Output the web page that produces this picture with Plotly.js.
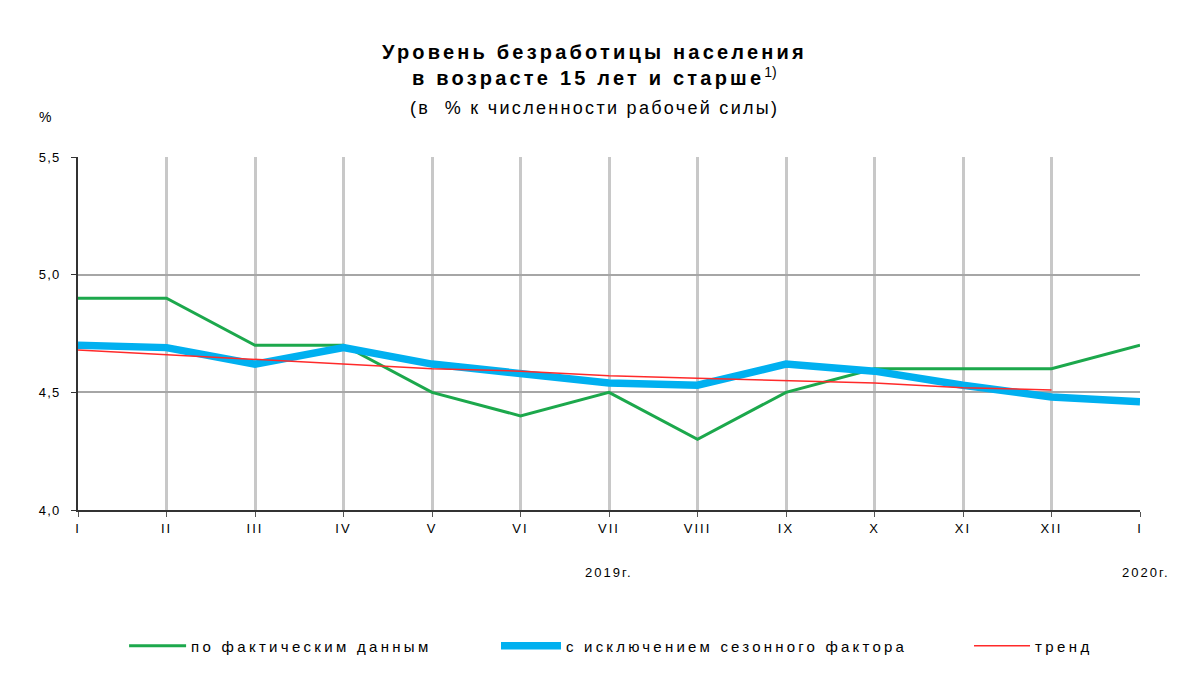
<!DOCTYPE html>
<html>
<head>
<meta charset="utf-8">
<script src="https://cdn.plot.ly/plotly-3.0.1.min.js"></script>
<style>
html,body{margin:0;padding:0;background:#fff;}
#chart{width:1187px;height:697px;}
</style>
</head>
<body>
<div id="chart"></div>
<script>
// Data
const months = ["I","II","III","IV","V","VI","VII","VIII","IX","X","XI","XII","I"];
const actual = [4.9, 4.9, 4.7, 4.7, 4.5, 4.4, 4.5, 4.3, 4.5, 4.6, 4.6, 4.6, 4.7];
const seasonal = [4.70, 4.69, 4.62, 4.69, 4.62, 4.58, 4.54, 4.53, 4.62, 4.59, 4.53, 4.48, 4.46];
const trend = [4.68, 4.66, 4.64, 4.62, 4.60, 4.59, 4.57, 4.56, 4.55, 4.54, 4.52, 4.51];
const seriesNames = ["по фактическим данным", "с исключением сезонного фактора", "тренд"];
const yearLabels = ["2019г.", "2020г."];
const yearPos = [6, 12];
const yTicks = [4.0, 4.5, 5.0, 5.5];

const idx = months.map((m, i) => i);
const FONT = "Liberation Sans, Arial, sans-serif";
const sp = (t, px) => '<span style="letter-spacing:' + px + 'px">' + t + '</span>';

const traces = [
  {x: idx, y: actual, type: "scatter", mode: "lines", name: sp(seriesNames[0], 3.3),
   line: {color: "#1ca84c", width: 3}, legend: "legend"},
  {x: idx, y: seasonal, type: "scatter", mode: "lines", name: sp(seriesNames[1], 3.2),
   line: {color: "#00b0f0", width: 7.5}, legend: "legend2"},
  {x: idx.slice(0, trend.length), y: trend, type: "scatter", mode: "lines", name: sp(seriesNames[2], 3.4),
   line: {color: "#ff2a2a", width: 1.5}, legend: "legend3"}
];

const legendBase = {orientation: "h", yanchor: "middle", xanchor: "left", y: -0.385,
  font: {family: FONT, size: 15, color: "#000"}, bgcolor: "rgba(0,0,0,0)", borderwidth: 0};

const layout = {
  width: 1187, height: 697,
  margin: {l: 78, r: 47, t: 157, b: 187},
  paper_bgcolor: "#fff", plot_bgcolor: "#fff",
  separators: ", ",
  font: {family: FONT, size: 13, color: "#000"},
  showlegend: true,
  legend: Object.assign({}, legendBase, {x: 0.0434, itemwidth: 57}),
  legend2: Object.assign({}, legendBase, {x: 0.3936, itemwidth: 60}),
  legend3: Object.assign({}, legendBase, {x: 0.8390, itemwidth: 56}),
  xaxis: {
    range: [0, 12], tickmode: "array", tickvals: idx, ticktext: months.map(m => sp(m, 2)),
    showgrid: true, gridcolor: "#c8c8c8", gridwidth: 3,
    showline: true, linecolor: "#333", linewidth: 2,
    ticks: "outside", ticklen: 5, tickcolor: "#555", tickwidth: 1,
    tickfont: {family: FONT, size: 13, color: "#000"},
    zeroline: false, fixedrange: true
  },
  yaxis: {
    range: [4.0, 5.5], tickmode: "array", tickvals: yTicks,
    ticktext: yTicks.map(v => sp(v.toFixed(1).replace(".", ","), 1.2)),
    ticklabelstandoff: 8,
    showgrid: true, gridcolor: "#a6a6a6", gridwidth: 2,
    showline: true, linecolor: "#333", linewidth: 2,
    ticks: "outside", ticklen: 5, tickcolor: "#333", tickwidth: 1,
    tickfont: {family: FONT, size: 13, color: "#000"},
    zeroline: false, fixedrange: true
  },
  annotations: [
    {text: "<b>" + sp("Уровень безработицы населения", 3.2) + "</b>", xref: "paper", yref: "paper", x: 0.486, y: 1.297,
     xanchor: "center", yanchor: "middle", showarrow: false, font: {family: FONT, size: 20, color: "#000"}},
    {text: "<b>" + sp("в возрасте 15 лет и старше", 3.2) + "</b><sup>1)</sup>", xref: "paper", yref: "paper", x: 0.486, y: 1.229,
     xanchor: "center", yanchor: "middle", showarrow: false, font: {family: FONT, size: 20, color: "#000"}},
    {text: sp("(в  % к численности рабочей силы)", 2.3), xref: "paper", yref: "paper", x: 0.486, y: 1.14,
     xanchor: "center", yanchor: "middle", showarrow: false, font: {family: FONT, size: 18, color: "#000"}},
    {text: "%", xref: "paper", yref: "paper", x: -0.031, y: 1.113,
     xanchor: "center", yanchor: "middle", showarrow: false, font: {family: FONT, size: 14, color: "#000"}},
    {text: sp(yearLabels[0], 2), xref: "x", yref: "paper", x: yearPos[0], y: -0.178,
     xanchor: "center", yanchor: "middle", showarrow: false, font: {family: FONT, size: 13, color: "#000"}},
    {text: sp(yearLabels[1], 2), xref: "x", yref: "paper", x: yearPos[1], y: -0.178, xshift: 6,
     xanchor: "center", yanchor: "middle", showarrow: false, font: {family: FONT, size: 13, color: "#000"}}
  ]
};

Plotly.newPlot("chart", traces, layout, {displayModeBar: false, staticPlot: true});
</script>
</body>
</html>
